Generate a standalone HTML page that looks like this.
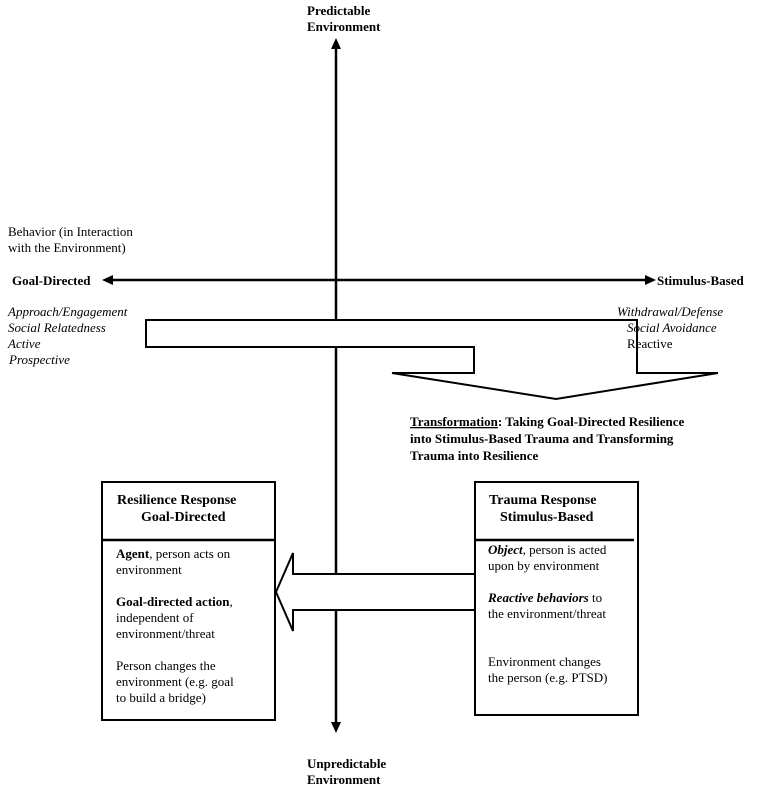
<!DOCTYPE html>
<html><head><meta charset="utf-8"><style>
body{margin:0;background:#fff;}
svg{display:block;font-family:"Liberation Serif",serif;font-size:13px;}
.b{font-weight:bold}.i{font-style:italic}
</style></head><body>
<svg width="757" height="792" viewBox="0 0 757 792" xmlns="http://www.w3.org/2000/svg">
<g stroke="#000" stroke-width="2.5" fill="none">
<line x1="336" y1="46" x2="336" y2="725"/>
<line x1="110" y1="280" x2="648" y2="280"/>
</g>
<polygon points="336,38 331,49 341,49" fill="#000"/>
<polygon points="336,733 331,722 341,722" fill="#000"/>
<polygon points="102,280 113,275 113,285" fill="#000"/>
<polygon points="656,280 645,275 645,285" fill="#000"/>
<!-- transformation arrow -->
<polygon points="146,320 637,320 637,373 718,373 556,399 392,373 474,373 474,347 146,347" fill="#fff" stroke="#000" stroke-width="2"/>
<line x1="336" y1="320" x2="336" y2="347" stroke="#fff" stroke-width="0"/>
<!-- left arrow -->
<polygon points="475,574 293,574 293,553 276,592 293,631 293,610 475,610" fill="#fff" stroke="#000" stroke-width="2"/>
<!-- boxes -->
<rect x="102" y="482" width="173" height="238" fill="#fff" stroke="#000" stroke-width="2"/>
<line x1="102" y1="540" x2="275" y2="540" stroke="#000" stroke-width="2.5"/>
<rect x="475" y="482" width="163" height="233" fill="#fff" stroke="#000" stroke-width="2"/>
<line x1="475" y1="540" x2="634" y2="540" stroke="#000" stroke-width="2.5"/>
<g fill="#000">
<text x="307" y="15" class="b">Predictable</text>
<text x="307" y="31" class="b">Environment</text>
<text x="8" y="236">Behavior (in Interaction</text>
<text x="8" y="252">with the Environment)</text>
<text x="12" y="285" class="b">Goal-Directed</text>
<text x="657" y="285" class="b">Stimulus-Based</text>
<text x="8" y="316" class="i">Approach/Engagement</text>
<text x="8" y="332" class="i">Social Relatedness</text>
<text x="8" y="348" class="i">Active</text>
<text x="9" y="364" class="i">Prospective</text>
<text x="617" y="316" class="i">Withdrawal/Defense</text>
<text x="627" y="332" class="i">Social Avoidance</text>
<text x="627" y="348">Reactive</text>
<text x="410" y="426" class="b"><tspan text-decoration="underline">Transformation</tspan>: Taking Goal-Directed Resilience</text>
<text x="410" y="443" class="b">into Stimulus-Based Trauma and Transforming</text>
<text x="410" y="460" class="b">Trauma into Resilience</text>
<text x="117" y="504" class="b" font-size="14">Resilience Response</text>
<text x="141" y="521" class="b" font-size="14">Goal-Directed</text>
<text x="116" y="558"><tspan class="b">Agent</tspan>, person acts on</text>
<text x="116" y="574">environment</text>
<text x="116" y="606"><tspan class="b">Goal-directed action</tspan>,</text>
<text x="116" y="622">independent of</text>
<text x="116" y="638">environment/threat</text>
<text x="116" y="670">Person changes the</text>
<text x="116" y="686">environment (e.g. goal</text>
<text x="116" y="702">to build a bridge)</text>
<text x="489" y="504" class="b" font-size="14">Trauma Response</text>
<text x="500" y="521" class="b" font-size="14">Stimulus-Based</text>
<text x="488" y="554"><tspan class="b i">Object</tspan>, person is acted</text>
<text x="488" y="570">upon by environment</text>
<text x="488" y="602"><tspan class="b i">Reactive behaviors</tspan> to</text>
<text x="488" y="618">the environment/threat</text>
<text x="488" y="666">Environment changes</text>
<text x="488" y="682">the person (e.g. PTSD)</text>
<text x="307" y="768" class="b">Unpredictable</text>
<text x="307" y="784" class="b">Environment</text>
</g>
</svg>
</body></html>
